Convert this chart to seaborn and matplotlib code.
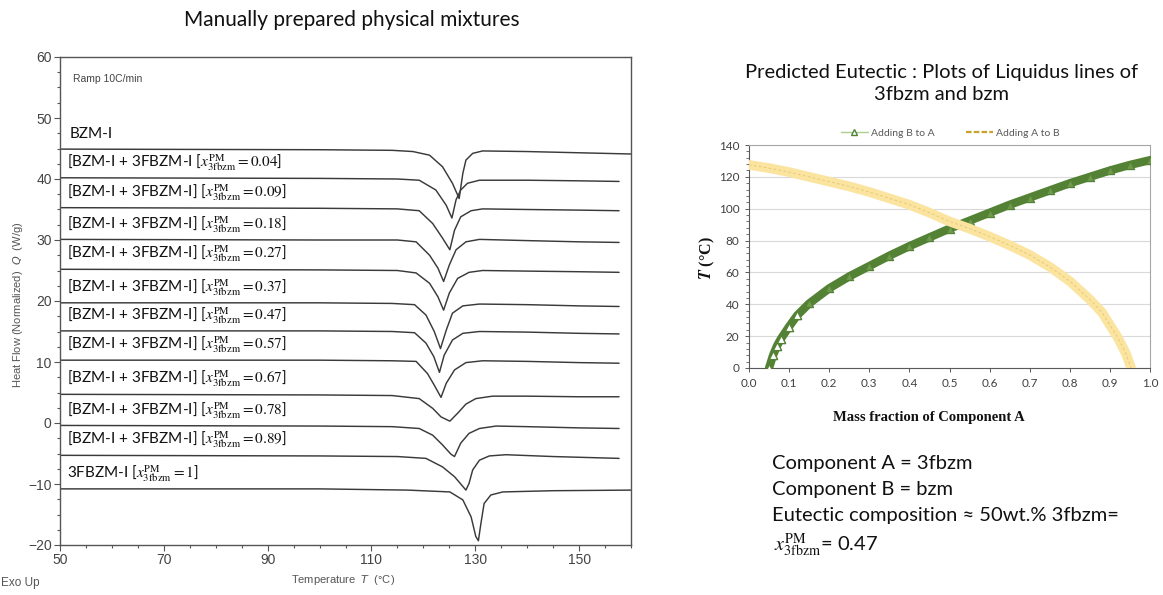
import matplotlib
matplotlib.use("Agg")
import matplotlib.pyplot as plt
import seaborn as sns
from matplotlib.lines import Line2D
from matplotlib.ticker import MultipleLocator, FixedLocator

# ---------------- data: DSC thermograms (Temperature / degC, Heat flow / W/g) ----------------
T_bzm = [50, 100, 114, 118, 121.2, 123.7, 125.6, 126.9, 127.6, 128.2, 129.5, 131.4, 140, 150, 160]
Q_bzm = [44.9, 44.8, 44.7, 44.5, 43.9, 42.0, 39.3, 36.8, 40.9, 43.1, 44.2, 44.6, 44.5, 44.3, 44.1]

T_004 = [50, 100, 115, 119.2, 122.4, 124.4, 125.5, 126.3, 127.2, 128.5, 130.8, 140, 150, 157.7]
Q_004 = [40.2, 40.1, 40.0, 39.8, 38.2, 35.7, 33.6, 36.6, 38.2, 39.3, 39.8, 39.8, 39.7, 39.6]

T_009 = [50, 100, 115, 119.2, 121.8, 123.7, 125.1, 126.0, 127.2, 129.2, 131.4, 140, 150, 157.7]
Q_009 = [35.3, 35.2, 35.1, 34.8, 32.7, 30.3, 28.4, 31.6, 33.8, 34.8, 35.1, 35.0, 34.9, 34.8]

T_018 = [50, 100, 115, 118.6, 121.2, 122.8, 123.9, 125.0, 126.3, 128.2, 130.8, 140, 150, 157.7]
Q_018 = [30.1, 30.0, 30.0, 29.7, 27.5, 25.4, 23.2, 25.9, 28.4, 29.7, 30.1, 29.9, 29.7, 29.6]

T_027 = [50, 100, 115, 118.6, 121.2, 122.8, 123.9, 125.0, 126.6, 128.8, 131.4, 140, 150, 157.7]
Q_027 = [25.2, 25.1, 25.0, 24.6, 22.9, 20.7, 18.5, 21.3, 23.7, 24.7, 25.0, 24.9, 24.8, 24.7]

T_037 = [50, 100, 114, 118.3, 120.5, 122.1, 123.3, 124.4, 125.6, 127.6, 130.8, 140, 150, 157.7]
Q_037 = [19.7, 19.7, 19.6, 19.4, 17.7, 15.0, 12.2, 15.2, 18.0, 19.2, 19.5, 19.4, 19.2, 19.1]

T_047 = [50, 100, 114, 118.3, 120.5, 122.0, 123.1, 124.0, 125.6, 127.6, 130.8, 140, 150, 157.7]
Q_047 = [15.1, 15.1, 15.0, 14.8, 13.1, 10.9, 8.3, 11.1, 13.6, 14.7, 15.0, 14.9, 14.7, 14.6]

T_057 = [50, 100, 114, 118.6, 120.8, 122.1, 123.4, 124.4, 126.0, 128.2, 131.4, 140, 150, 157.7]
Q_057 = [10.3, 10.3, 10.2, 10.1, 8.1, 6.2, 4.2, 6.5, 8.7, 9.9, 10.2, 10.1, 9.9, 9.8]

T_067 = [50, 100, 114, 119.2, 121.8, 123.4, 125.1, 126.6, 128.2, 130.1, 133.3, 140, 150, 157.7]
Q_067 = [4.7, 4.6, 4.5, 4.0, 2.4, 1.0, 0.3, 1.6, 3.1, 4.0, 4.4, 4.4, 4.3, 4.3]

T_078 = [50, 100, 114, 119.2, 121.8, 123.7, 125.3, 126.0, 127.2, 128.8, 130.8, 134, 140, 150, 157.7]
Q_078 = [-0.4, -0.5, -0.6, -0.9, -2.0, -3.6, -5.1, -5.5, -3.3, -1.7, -0.9, -0.5, -0.6, -0.8, -0.9]

T_089 = [50, 100, 115, 120.5, 123.7, 126.0, 127.6, 128.2, 128.8, 129.5, 130.8, 132.7, 135.9, 145, 157.7]
Q_089 = [-5.3, -5.4, -5.5, -5.8, -7.2, -8.8, -10.4, -11.0, -9.9, -7.7, -6.1, -5.4, -5.2, -5.5, -5.8]

T_3fbzm = [50, 100, 117, 125.1, 127.6, 129.2, 130.1, 130.6, 131.1, 131.7, 133.0, 135.3, 145, 160]
Q_3fbzm = [-10.8, -10.8, -11.0, -11.3, -12.6, -15.4, -18.6, -19.3, -16.4, -13.2, -11.8, -11.3, -11.1, -11.0]

curve_T = [T_bzm, T_004, T_009, T_018, T_027, T_037, T_047, T_057, T_067, T_078, T_089, T_3fbzm]
curve_Q = [Q_bzm, Q_004, Q_009, Q_018, Q_027, Q_037, Q_047, Q_057, Q_067, Q_078, Q_089, Q_3fbzm]

mix_fractions = ["0.04", "0.09", "0.18", "0.27", "0.37", "0.47", "0.57", "0.67", "0.78", "0.89"]
XM = r"x_{\mathrm{3fbzm}}^{\mathrm{PM}}"
curve_labels = (["BZM-I", r"[BZM-I + 3FBZM-I [$" + XM + r" = 0.04$]"]
                + [r"[BZM-I + 3FBZM-I] [$" + XM + " = " + f + r"$]" for f in mix_fractions[1:]]
                + [r"3FBZM-I [$" + XM + r" = 1$]"])

x_ticks_left = [50, 70, 90, 110, 130, 150]

# ---------------- data: predicted liquidus lines ----------------
frac_BtoA = [0.05, 0.06, 0.07, 0.08, 0.10, 0.12, 0.15, 0.20, 0.25, 0.30, 0.35, 0.40, 0.45,
             0.50, 0.55, 0.60, 0.65, 0.70, 0.75, 0.80, 0.85, 0.90, 0.95, 1.00]
T_BtoA = [0, 8, 14, 18.5, 26, 33, 40.5, 50, 57.5, 64, 70.5, 76.5, 82,
          87.5, 92.5, 97.5, 102.5, 107, 111.5, 116, 120, 124, 127.5, 130.5]

frac_AtoB = [0.0, 0.05, 0.1, 0.15, 0.2, 0.25, 0.3, 0.35, 0.4, 0.45, 0.5, 0.55, 0.6, 0.65,
             0.7, 0.75, 0.8, 0.85, 0.88, 0.9, 0.92, 0.94, 0.953]
T_AtoB = [127.5, 125.5, 123, 120, 117, 114, 110.5, 106.5, 102.5, 97.5, 92, 87.5, 82.5, 77,
          71, 63.5, 54.5, 43, 35, 27, 19, 9, 0]

# ---------------- style ----------------
sns.set_theme(style="ticks")
plt.rcParams["font.family"] = ["Lato", "DejaVu Sans"]
plt.rcParams["mathtext.fontset"] = "stix"

W, H = 1163, 595
fig = plt.figure(figsize=(W / 100, H / 100), dpi=100)

def fx(px):
    return px / W

def fy(py):
    return 1 - py / H

# ================= left panel =================
axL = fig.add_axes([fx(60), fy(545), fx(631) - fx(60), fy(57) - fy(545)])
for T, Q in zip(curve_T, curve_Q):
    sns.lineplot(x=T, y=Q, ax=axL, sort=False, estimator=None, color="#3a3a3a", lw=1.05)

for T, Q, lab in zip(curve_T, curve_Q, curve_labels):
    axL.text(51.3 if lab != "BZM-I" else 51.9, Q[0] + 2.5, lab, va="center", ha="left",
             fontsize=11, color="#111111", math_fontfamily="stix")

axL.text(52.5, 56.4, "Ramp 10C/min", fontsize=7.5, color="#444444",
         family=["Liberation Sans Narrow", "Liberation Sans"], va="center")

axL.set_xlim(50, 160)
axL.set_ylim(-20, 60)
axL.xaxis.set_major_locator(FixedLocator(x_ticks_left))
axL.xaxis.set_minor_locator(MultipleLocator(5))
axL.yaxis.set_major_locator(MultipleLocator(10))
axL.yaxis.set_minor_locator(MultipleLocator(2.5))
axL.set_xlabel("")
axL.set_ylabel("")
for sp in axL.spines.values():
    sp.set_color("#555555")
    sp.set_linewidth(1.0)
axL.tick_params(which="major", direction="out", length=4, width=0.8, color="#555555",
                labelsize=10, labelcolor="#444444", pad=2)
axL.tick_params(which="minor", direction="out", length=2.5, width=0.8, color="#555555")
for lab in axL.get_xticklabels() + axL.get_yticklabels():
    lab.set_family(["Liberation Sans Narrow", "Liberation Sans"])

fig.text(fx(352), fy(20), "Manually prepared physical mixtures", ha="center", va="center",
         fontsize=15, color="#111111")
fig.text(fx(18), fy(305), r"Heat Flow (Normalized)  $Q$  (W/g)", rotation=90, ha="center",
         va="center", fontsize=8, color="#555555", family="Liberation Sans",
         math_fontfamily="dejavusans")
fig.text(fx(343), fy(580), r"Temperature  $T$  (°C)", ha="center", va="center", fontsize=8,
         color="#555555", family="Liberation Sans", math_fontfamily="dejavusans")
fig.text(fx(1), fy(583), "Exo Up", ha="left", va="center", fontsize=8.5, color="#555555",
         family=["Liberation Sans Narrow", "Liberation Sans"])

# ================= right panel =================
axR = fig.add_axes([fx(749), fy(368), fx(1150) - fx(749), fy(145) - fy(368)])
axR.yaxis.grid(True, color="#d9d9d9", lw=0.8)
axR.set_axisbelow(True)

green_dark = "#548235"
yellow_band = "#fbe3a0"
yellow_line = "#c9a227"

sns.lineplot(x=frac_BtoA, y=T_BtoA, ax=axR, sort=False, estimator=None, color=green_dark,
             lw=6, zorder=3)
sns.scatterplot(x=frac_BtoA, y=T_BtoA, ax=axR, marker="^", s=34, facecolor="#6f9a4c",
                edgecolor=green_dark, linewidth=0.9, zorder=4)
sns.scatterplot(x=frac_BtoA[:6], y=T_BtoA[:6], ax=axR, marker="^", s=34, facecolor="white",
                edgecolor=green_dark, linewidth=0.9, zorder=4)
sns.lineplot(x=frac_AtoB, y=T_AtoB, ax=axR, sort=False, estimator=None, color=yellow_band,
             lw=7, zorder=5)
sns.lineplot(x=frac_AtoB, y=T_AtoB, ax=axR, sort=False, estimator=None, color=yellow_line,
             lw=0.6, ls=(0, (3, 3)), zorder=6, alpha=0.45)

axR.set_xlim(0, 1.0)
axR.set_ylim(0, 140)
axR.yaxis.set_major_locator(MultipleLocator(20))
axR.yaxis.set_minor_locator(MultipleLocator(4))
axR.set_xticks([i / 10 for i in range(11)])
axR.set_xticklabels([f"{i / 10:.1f}" for i in range(11)])
axR.set_xlabel("")
axR.set_ylabel("")
for name, sp in axR.spines.items():
    sp.set_linewidth(0.8)
    sp.set_color("#595959" if name in ("left", "bottom") else "#a6a6a6")
axR.tick_params(which="major", direction="out", length=3, width=0.7, color="#595959",
                labelsize=8.5, labelcolor="#404040", pad=4)
axR.tick_params(which="minor", direction="out", length=2, width=0.6, color="#595959")

fig.text(fx(942), fy(83.5), "Predicted Eutectic : Plots of Liquidus lines of\n3fbzm and bzm",
         ha="center", va="center", fontsize=14.5, linespacing=1.3, color="#111111")
fig.text(fx(929), fy(418), "Mass fraction of Component A", ha="center", va="center",
         fontsize=10.5, fontweight="bold", family="Liberation Serif", color="#111111")
fig.text(fx(707), fy(258), r"$\mathbfit{T}$ (°C)", rotation=90, ha="center", va="center",
         fontsize=11.5, fontweight="bold", family="Liberation Serif", color="#111111",
         math_fontfamily="stix")

handles = [
    Line2D([], [], color="#a9d18e", lw=1.0, marker="^", markersize=5,
           markerfacecolor="white", markeredgecolor=green_dark),
    Line2D([], [], color=yellow_line, lw=1.6, ls=(0, (2.5, 1))),
]
fig.legend(handles, ["Adding B to A", "Adding A to B"], loc="center",
           bbox_to_anchor=(fx(950), fy(133)), ncol=2, frameon=False, fontsize=7.5,
           handlelength=2.6, columnspacing=3.0, handletextpad=0.3, labelcolor="#595959")

# annotation text block
txt_kw = dict(ha="left", va="center", fontsize=14.5, color="#111111",
              family=["Lato", "DejaVu Sans"], math_fontfamily="stix")
fig.text(fx(772), fy(464), "Component A = 3fbzm", **txt_kw)
fig.text(fx(772), fy(490), "Component B = bzm", **txt_kw)
fig.text(fx(772), fy(515), "Eutectic composition ≈ 50wt.% 3fbzm=", **txt_kw)
fig.text(fx(774), fy(545), r"$" + XM + r"$= 0.47", **txt_kw)

fig.savefig("out.png", dpi=100)
